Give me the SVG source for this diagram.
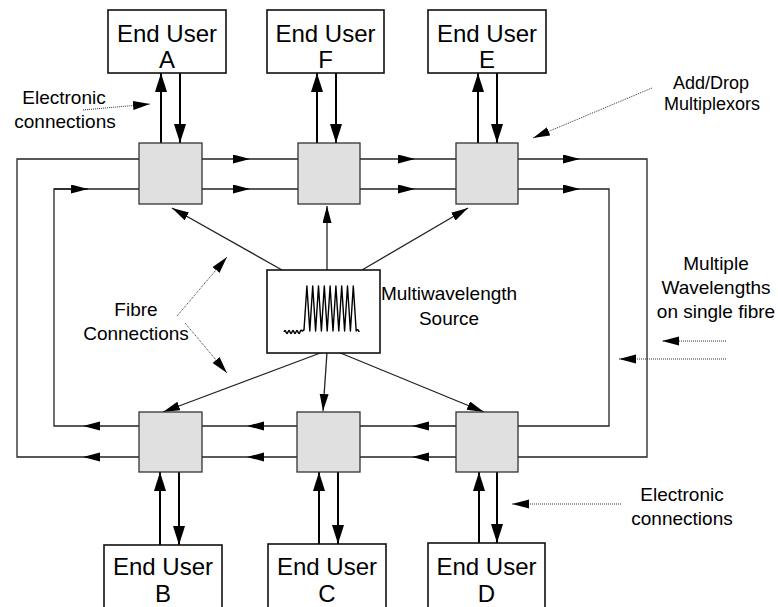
<svg xmlns="http://www.w3.org/2000/svg" width="778" height="607" viewBox="0 0 778 607">
<style>
text{font-family:"Liberation Sans",Arial,sans-serif;fill:#000;text-anchor:middle}
.eu{font-size:24px}
.lb{font-size:19px}
.box{fill:#fff;stroke:#111;stroke-width:1.6}
.mux{fill:#e0e0e0;stroke:#333;stroke-width:1.3}
.f{stroke:#222;stroke-width:1.3;fill:none}
.fa{stroke:#222;stroke-width:1.3;fill:none;marker-end:url(#ah)}
.e{stroke:#000;stroke-width:2;fill:none;marker-end:url(#eh)}
.d{stroke:#333;stroke-width:1;stroke-dasharray:1 1;fill:none;marker-end:url(#dh)}
</style>
<defs>
<marker id="ah" markerUnits="userSpaceOnUse" markerWidth="18" markerHeight="10" refX="17" refY="4.5" orient="auto"><path d="M0,0 L17,4.5 L0,9 z" fill="#000"/></marker>
<marker id="eh" markerUnits="userSpaceOnUse" markerWidth="20" markerHeight="13" refX="19" refY="6" orient="auto"><path d="M0,0 L19,6 L0,12 z" fill="#000"/></marker>
<marker id="dh" markerUnits="userSpaceOnUse" markerWidth="18" markerHeight="10" refX="17" refY="4.5" orient="auto"><path d="M0,0 L17,4.5 L0,9 z" fill="#000"/></marker>
</defs>

<g id="connectors">
<!-- outer loop -->
<path class="f" d="M139,159 H17 V457 H83"/>
<path class="fa" d="M202,159 H250"/><path class="f" d="M250,159 H298"/>
<path class="fa" d="M360,159 H415"/><path class="f" d="M415,159 H456"/>
<path class="fa" d="M518,159 H580"/><path class="f" d="M580,159 H647 V457 H518"/>
<path class="fa" d="M456,457 H412"/><path class="f" d="M412,457 H360"/>
<path class="fa" d="M297,457 H247"/><path class="f" d="M247,457 H202"/>
<path class="fa" d="M139,457 H83"/>
<!-- inner loop -->
<path class="f" d="M83,426 H54 V189 H88"/><path class="f" d="M88,189 H139"/>
<path class="fa" d="M54,189 H88"/>
<path class="fa" d="M202,189 H250"/><path class="f" d="M250,189 H298"/>
<path class="fa" d="M360,189 H415"/><path class="f" d="M415,189 H456"/>
<path class="fa" d="M518,189 H580"/><path class="f" d="M580,189 H609 V426 H518"/>
<path class="fa" d="M456,426 H412"/><path class="f" d="M412,426 H360"/>
<path class="fa" d="M297,426 H247"/><path class="f" d="M247,426 H202"/>
<path class="fa" d="M139,426 H83"/>
<!-- source to multiplexors -->
<path class="fa" d="M282,270 L172,208"/>
<path class="fa" d="M327,270 L327,206"/>
<path class="fa" d="M362,270 L468,208"/>
<path class="fa" d="M323,352 L163,412"/>
<path class="fa" d="M327,352 L323,411"/>
<path class="fa" d="M338,352 L484,412"/>
<!-- electronic connections -->
<path class="e" d="M161,143 V73"/><path class="e" d="M180,73 V143"/>
<path class="e" d="M317,143 V73"/><path class="e" d="M336,73 V143"/>
<path class="e" d="M478,143 V73"/><path class="e" d="M497,73 V143"/>
<path class="e" d="M160,545 V472"/><path class="e" d="M179,472 V545"/>
<path class="e" d="M319,544 V472"/><path class="e" d="M338,472 V544"/>
<path class="e" d="M479,543 V472"/><path class="e" d="M497,472 V543"/>
<!-- annotation pointers -->
<path class="d" d="M83,110 L150,104"/>
<path class="d" d="M652,88 L533,138"/>
<path class="d" d="M177,316 L227,257"/>
<path class="d" d="M185,323 L227,373"/>
<path class="d" d="M726,341 L662,341"/>
<path class="d" d="M726,359 L619,359"/>
<path class="d" d="M621,504 L512,504"/>
</g>

<g id="userA"><rect class="box" x="108" y="10" width="118" height="63"/><text class="eu" x="167" y="42">End User</text><text class="eu" x="167" y="68">A</text></g>
<g id="userF"><rect class="box" x="267" y="10" width="117" height="63"/><text class="eu" x="325.5" y="42">End User</text><text class="eu" x="325.5" y="68">F</text></g>
<g id="userE"><rect class="box" x="428" y="10" width="118" height="63"/><text class="eu" x="487" y="42">End User</text><text class="eu" x="487" y="68">E</text></g>
<g id="userB"><rect class="box" x="104" y="545" width="118" height="70"/><text class="eu" x="163" y="575">End User</text><text class="eu" x="163" y="602">B</text></g>
<g id="userC"><rect class="box" x="268" y="544" width="118" height="70"/><text class="eu" x="327" y="575">End User</text><text class="eu" x="327" y="602">C</text></g>
<g id="userD"><rect class="box" x="428" y="543" width="117" height="70"/><text class="eu" x="486.5" y="575">End User</text><text class="eu" x="486.5" y="602">D</text></g>

<g id="muxA"><rect class="mux" x="139" y="143" width="63" height="61"/></g>
<g id="muxF"><rect class="mux" x="298" y="143" width="62" height="61"/></g>
<g id="muxE"><rect class="mux" x="456" y="143" width="62" height="61"/></g>
<g id="muxB"><rect class="mux" x="139" y="412" width="63" height="60"/></g>
<g id="muxC"><rect class="mux" x="297" y="412" width="63" height="60"/></g>
<g id="muxD"><rect class="mux" x="456" y="412" width="62" height="60"/></g>

<g id="source">
<rect class="box" x="267" y="270" width="113" height="83"/>
<path d="M284,332 q1,-3 2,0 q1,3 2,0 q1,-3 2,0 q1,3 2,0 q1,-3 2,0 q1,3 2,0 q1,-3 2,0 q1,3 2,0 q1,-3 2,-1 L304,330
L306.9,286 L309.8,331 L312.7,286 L315.6,331 L318.5,286 L321.4,331 L324.3,286 L327.2,331 L330.1,286 L333,331 L335.9,286 L338.8,331 L341.7,286 L344.6,331 L347.5,286 L350.4,331 L353.3,286 L356.2,331 q1.5,-3 3,1" fill="none" stroke="#000" stroke-width="1.4" stroke-linejoin="round"/>
<text class="lb" x="449" y="300">Multiwavelength</text>
<text class="lb" x="449" y="325">Source</text>
</g>

<g id="labels">
<text class="lb" x="64" y="104">Electronic</text>
<text class="lb" x="65" y="128">connections</text>
<text class="lb" x="711" y="89" style="font-size:18px">Add/Drop</text>
<text class="lb" x="712" y="110" style="font-size:18px">Multiplexors</text>
<text class="lb" x="136" y="316">Fibre</text>
<text class="lb" x="136" y="340">Connections</text>
<text class="lb" x="716" y="270">Multiple</text>
<text class="lb" x="716" y="294">Wavelengths</text>
<text class="lb" x="716" y="318">on single fibre</text>
<text class="lb" x="682" y="501">Electronic</text>
<text class="lb" x="682" y="525">connections</text>
</g>
</svg>
